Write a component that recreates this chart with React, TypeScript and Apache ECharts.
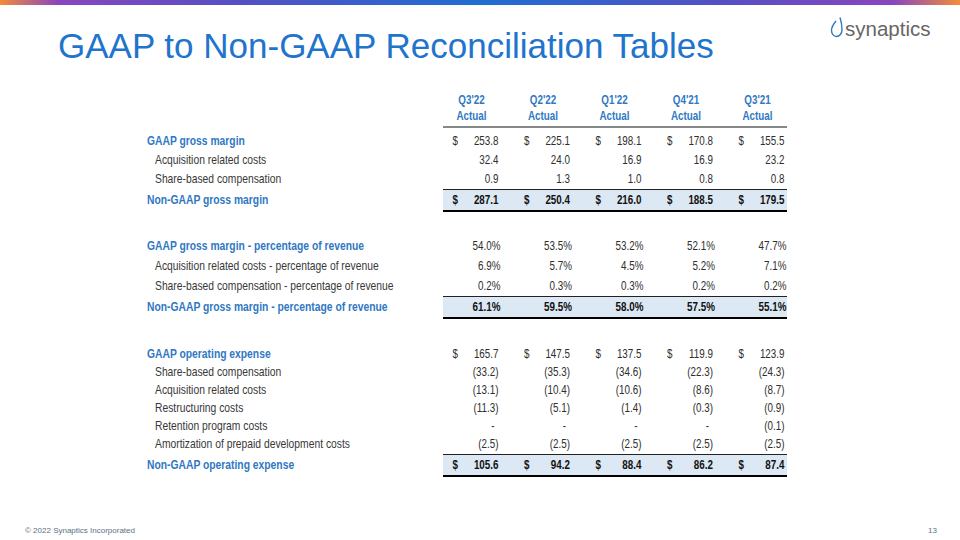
import React, { useEffect, useRef } from "react";
import * as echarts from "echarts";

// ---------- data ----------
const periods = ["Q3'22", "Q2'22", "Q1'22", "Q4'21", "Q3'21"];
const periodSubtitle = "Actual";

const gaapGrossMargin = [253.8, 225.1, 198.1, 170.8, 155.5];
const gmAcquisitionCosts = [32.4, 24.0, 16.9, 16.9, 23.2];
const gmShareBasedComp = [0.9, 1.3, 1.0, 0.8, 0.8];
const nonGaapGrossMargin = [287.1, 250.4, 216.0, 188.5, 179.5];

const gaapGrossMarginPct = [54.0, 53.5, 53.2, 52.1, 47.7];
const acquisitionCostsPct = [6.9, 5.7, 4.5, 5.2, 7.1];
const shareBasedCompPct = [0.2, 0.3, 0.3, 0.2, 0.2];
const nonGaapGrossMarginPct = [61.1, 59.5, 58.0, 57.5, 55.1];

const gaapOpex = [165.7, 147.5, 137.5, 119.9, 123.9];
const opexShareBasedComp = [-33.2, -35.3, -34.6, -22.3, -24.3];
const opexAcquisitionCosts = [-13.1, -10.4, -10.6, -8.6, -8.7];
const opexRestructuring = [-11.3, -5.1, -1.4, -0.3, -0.9];
const opexRetention: (number | null)[] = [null, null, null, null, -0.1];
const opexPrepaidAmortization = [-2.5, -2.5, -2.5, -2.5, -2.5];
const nonGaapOpex = [105.6, 94.2, 88.4, 86.2, 87.4];

const titleText = "GAAP to Non-GAAP Reconciliation Tables";
const footerText = "© 2022 Synaptics Incorporated";
const pageNumber = "13";
const logoText = "synaptics";

type Row = {
  label: string;
  values: (number | null)[];
  kind: "head" | "item" | "total";
  fmt: "usd" | "num" | "pct";
};

const sections: Row[][] = [
  [
    { label: "GAAP gross margin", values: gaapGrossMargin, kind: "head", fmt: "usd" },
    { label: "Acquisition related costs", values: gmAcquisitionCosts, kind: "item", fmt: "num" },
    { label: "Share-based compensation", values: gmShareBasedComp, kind: "item", fmt: "num" },
    { label: "Non-GAAP gross margin", values: nonGaapGrossMargin, kind: "total", fmt: "usd" },
  ],
  [
    { label: "GAAP gross margin - percentage of revenue", values: gaapGrossMarginPct, kind: "head", fmt: "pct" },
    { label: "Acquisition related costs - percentage of revenue", values: acquisitionCostsPct, kind: "item", fmt: "pct" },
    { label: "Share-based compensation - percentage of revenue", values: shareBasedCompPct, kind: "item", fmt: "pct" },
    { label: "Non-GAAP gross margin - percentage of revenue", values: nonGaapGrossMarginPct, kind: "total", fmt: "pct" },
  ],
  [
    { label: "GAAP operating expense", values: gaapOpex, kind: "head", fmt: "usd" },
    { label: "Share-based compensation", values: opexShareBasedComp, kind: "item", fmt: "num" },
    { label: "Acquisition related costs", values: opexAcquisitionCosts, kind: "item", fmt: "num" },
    { label: "Restructuring costs", values: opexRestructuring, kind: "item", fmt: "num" },
    { label: "Retention program costs", values: opexRetention, kind: "item", fmt: "num" },
    { label: "Amortization of prepaid development costs", values: opexPrepaidAmortization, kind: "item", fmt: "num" },
    { label: "Non-GAAP operating expense", values: nonGaapOpex, kind: "total", fmt: "usd" },
  ],
];

// ---------- layout / style ----------
const FONT = "'Liberation Sans', Arial, sans-serif";
const NARROW = 0.82;
const LABEL_NARROW = 0.86;
const BLUE = "#2f78c2";
const TITLE_BLUE = "#1f74cc";
const TEXT = "#2e2e2e";
const BAND = "#dce8f3";
const sectionLayout = [
  { top: 141, pitch: 19 },
  { top: 246, pitch: 20 },
  { top: 354, pitch: 18 },
];
const TOTAL_GAP = 21;
const HEADER_Y = 100;
const HEADER_RULE_Y = 127;

type PlacedRow = Row & { y: number };
const placedRows: PlacedRow[] = [];
sections.forEach((sec, si) => {
  let y = sectionLayout[si].top;
  sec.forEach((r, ri) => {
    if (ri > 0) y += r.kind === "total" ? TOTAL_GAP : sectionLayout[si].pitch;
    placedRows.push({ ...r, y });
  });
});

function fmtValue(v: number | null, fmt: Row["fmt"]): string {
  if (v === null) return "-";
  if (fmt === "pct") return v.toFixed(1) + "%";
  if (v < 0) return "(" + Math.abs(v).toFixed(1) + ")";
  return v.toFixed(1);
}

function narrowText(x: number, y: number, text: string, opts: any) {
  return {
    type: "text",
    x,
    y,
    scaleX: opts.scale || NARROW,
    style: {
      text,
      x: 0,
      y: 0,
      fontFamily: FONT,
      fontSize: opts.fontSize || 12,
      fontWeight: opts.bold ? "bold" : "normal",
      fill: opts.fill || TEXT,
      align: opts.align || "left",
      verticalAlign: "middle",
    },
  };
}

echarts.graphic.registerShape(
  "synDrop",
  echarts.graphic.extendPath(
    "M9 0.5 C 10.5 5, 11 9, 11 13 C 11 16.5, 8.5 19.5, 5.5 19.5 C 2.5 19.5, 0.5 16.5, 0.5 13.5 C 0.5 10, 2.5 7, 5 4",
    {}
  ) as any
);

export default function App() {
  const ref = useRef<HTMLDivElement>(null);

  useEffect(() => {
    if (!ref.current) return;
    const chart = echarts.init(ref.current, null, { renderer: "svg" });

    const cellData: number[][] = [];
    placedRows.forEach((r, ri) => {
      r.values.forEach((_, ci) => cellData.push([ci + 1, r.y, ri, ci]));
    });

    const option: any = {
      animation: false,
      backgroundColor: "#ffffff",
      grid: { left: 427, top: 0, width: 357.5, height: 540 },
      xAxis: { type: "value", min: 0, max: 5, show: false },
      yAxis: { type: "value", min: 0, max: 540, inverse: true, show: false },
      series: [
        {
          // shaded total bands
          type: "custom",
          z: 1,
          data: placedRows
            .map((r, ri) => [0, r.y, ri, r.kind === "total" ? 1 : 0])
            .filter((d) => d[3] === 1),
          renderItem: (params: any, api: any) => {
            const p0 = api.coord([0, api.value(1)]);
            const p5 = api.coord([5, api.value(1)]);
            const left = p0[0] + 16;
            const right = p5[0] + 2.5;
            const y = p0[1];
            return {
              type: "group",
              children: [
                { type: "rect", shape: { x: left, y: y - 10.5, width: right - left, height: 21 }, style: { fill: BAND } },
                { type: "line", shape: { x1: left, y1: y - 10.5, x2: right, y2: y - 10.5 }, style: { stroke: "#222", lineWidth: 1 } },
                { type: "line", shape: { x1: left, y1: y + 11, x2: right, y2: y + 11 }, style: { stroke: "#000", lineWidth: 2.2 } },
              ],
            };
          },
        },
        {
          // header rule
          type: "custom",
          z: 1,
          data: [[0, HEADER_RULE_Y]],
          renderItem: (params: any, api: any) => {
            const p0 = api.coord([0, api.value(1)]);
            const p5 = api.coord([5, api.value(1)]);
            return {
              type: "line",
              shape: { x1: p0[0] + 16, y1: p0[1], x2: p5[0] + 2.5, y2: p0[1] },
              style: { stroke: "#111", lineWidth: 1.2 },
            };
          },
        },
        {
          // column headers
          type: "custom",
          z: 3,
          data: periods.map((_, i) => [i + 1, HEADER_Y, i]),
          renderItem: (params: any, api: any) => {
            const p = api.coord([api.value(0), api.value(1)]);
            const i = api.value(2);
            const cx = p[0] - 27;
            return {
              type: "group",
              children: [
                narrowText(cx, p[1], periods[i], { bold: true, fill: BLUE, align: "center" }),
                narrowText(cx, p[1] + 16, periodSubtitle, { bold: true, fill: BLUE, align: "center" }),
              ],
            };
          },
        },
        {
          // row labels
          type: "custom",
          z: 3,
          data: placedRows.map((r, ri) => [0, r.y, ri]),
          renderItem: (params: any, api: any) => {
            const ri = api.value(2);
            const r = placedRows[ri];
            const p = api.coord([0, api.value(1)]);
            const isItem = r.kind === "item";
            return narrowText(isItem ? 155 : 147, p[1], r.label, {
              bold: !isItem,
              fill: isItem ? "#383838" : BLUE,
              scale: LABEL_NARROW,
            });
          },
        },
        {
          // value cells
          type: "custom",
          z: 3,
          data: cellData,
          renderItem: (params: any, api: any) => {
            const ri = api.value(2);
            const ci = api.value(3);
            const r = placedRows[ri];
            const v = r.values[ci];
            const p = api.coord([api.value(0), api.value(1)]);
            const bold = r.kind === "total";
            const children: any[] = [];
            let x = p[0];
            if (r.fmt === "pct") x += 2;
            if (v === null) x -= 4;
            children.push(
              narrowText(x, p[1], fmtValue(v, r.fmt), { bold, fill: bold ? "#111" : TEXT, align: "right" })
            );
            if (r.fmt === "usd") {
              children.push(narrowText(p[0] - 46, p[1], "$", { bold, fill: bold ? "#111" : TEXT, align: "left" }));
            }
            return { type: "group", children };
          },
        },
      ],
      graphic: [
        {
          type: "rect",
          shape: { x: 0, y: 0, width: 960, height: 5 },
          style: {
            fill: new echarts.graphic.LinearGradient(0, 0, 1, 0, [
              { offset: 0, color: "#f28c38" },
              { offset: 0.06, color: "#8a45bf" },
              { offset: 0.25, color: "#5450c4" },
              { offset: 0.5, color: "#1e6fd0" },
              { offset: 0.75, color: "#5450c4" },
              { offset: 0.93, color: "#8a45bf" },
              { offset: 1, color: "#f28c38" },
            ]),
          },
        },
        {
          type: "text",
          x: 58,
          y: 45,
          style: {
            text: titleText,
            fontFamily: FONT,
            fontSize: 35,
            fill: TITLE_BLUE,
            align: "left",
            verticalAlign: "middle",
          },
        },
        {
          type: "synDrop",
          x: 831,
          y: 17,
          scaleX: 1,
          scaleY: 1,
          style: { fill: "none", stroke: "#2f7ac4", lineWidth: 1.4 },
        },
        {
          type: "text",
          x: 845,
          y: 28,
          style: {
            text: logoText,
            fontFamily: FONT,
            fontSize: 20.5,
            fill: "#666666",
            align: "left",
            verticalAlign: "middle",
          },
        },
        {
          type: "text",
          x: 25,
          y: 530,
          style: {
            text: footerText,
            fontFamily: FONT,
            fontSize: 8,
            fill: "#5a7184",
            align: "left",
            verticalAlign: "middle",
          },
        },
        {
          type: "text",
          x: 937,
          y: 530,
          style: {
            text: pageNumber,
            fontFamily: FONT,
            fontSize: 8,
            fill: "#5a7184",
            align: "right",
            verticalAlign: "middle",
          },
        },
      ],
    };

    chart.setOption(option);
    return () => chart.dispose();
  }, []);

  return (
    <div
      ref={ref}
      style={{ position: "fixed", left: 0, top: 0, width: 960, height: 540, background: "#fff" }}
    />
  );
}
